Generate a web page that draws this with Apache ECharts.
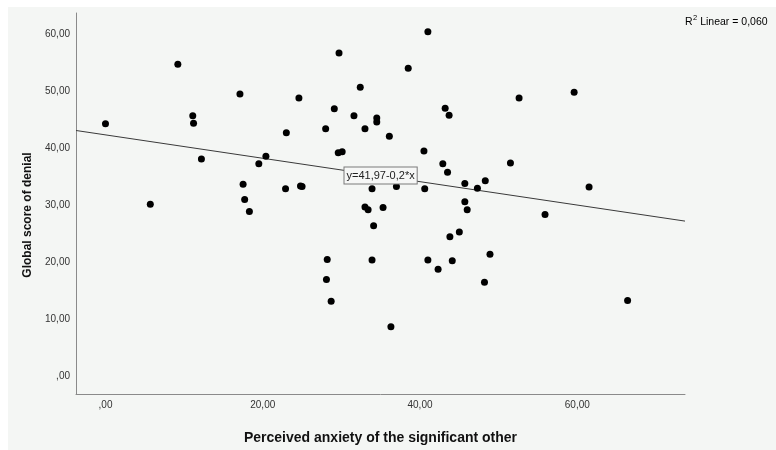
<!DOCTYPE html>
<html>
<head>
<meta charset="utf-8">
<script src="https://cdn.jsdelivr.net/npm/echarts@6/dist/echarts.min.js"></script>
<style>html,body{margin:0;padding:0;background:#fff}#c{width:776px;height:450px}</style>
</head>
<body>
<div id="c"></div>
<script>
// Perceived anxiety of the significant other (x) and Global score of denial (y)
const anxiety = [0, 9.2, 17.1, 11.1, 11.2, 12.2, 19.5, 17.5, 17.7, 18.3, 5.7,
  20.4, 41.0, 29.7, 38.5, 32.4, 24.6, 43.2, 43.7, 29.1, 31.6, 34.5, 34.5, 28.0, 33.0, 23.0, 36.1,
  40.5, 29.6, 30.1, 42.9, 43.5, 51.5, 45.7, 48.3, 47.3, 22.9, 24.8, 25.0, 33.9, 37.0, 40.6,
  45.7, 46.0, 33.0, 33.4, 35.3,
  52.6, 59.6, 61.5, 55.9, 66.4,
  34.1, 45.0, 43.8, 48.9, 28.2, 33.9, 41.0, 44.1, 42.3, 28.1, 48.2, 28.7, 36.3];
const denial = [44.3, 54.7, 49.5, 45.7, 44.4, 38.1, 37.3, 33.7, 31.0, 28.9, 30.2,
  38.6, 60.4, 56.7, 54.0, 50.7, 48.8, 47.0, 45.8, 46.9, 45.7, 45.3, 44.6, 43.4, 43.4, 42.7, 42.1,
  39.5, 39.2, 39.4, 37.3, 35.8, 37.4, 33.8, 34.3, 33.0, 32.9, 33.4, 33.3, 32.9, 33.3, 32.9,
  30.6, 29.2, 29.7, 29.2, 29.6,
  48.8, 49.8, 33.2, 28.4, 13.3,
  26.4, 25.3, 24.5, 21.4, 20.5, 20.4, 20.4, 20.3, 18.8, 17.0, 16.5, 13.2, 8.7];
const xTicks = [0, 20, 40, 60];
const yTicks = [0, 10, 20, 30, 40, 50, 60];
const xRange = [-3.75, 73.7];
const yRange = [-3.07, 63.7];
const fitIntercept = 42.34;
const fitSlope = -0.205;
const equationText = 'y=41,97-0,2*x';
const r2Label = 'Linear = 0,060';
const xTitle = 'Perceived anxiety of the significant other';
const yTitle = 'Global score of denial';

const FONT = 'Liberation Sans, Arial, sans-serif';
const fmt = v => (v === 0 ? ',00' : v.toFixed(2).replace('.', ','));
const points = anxiety.map((x, i) => [x, denial[i]]);
const fitLine = xRange.map(x => [x, fitIntercept + fitSlope * x]);

const chart = echarts.init(document.getElementById('c'), null, {renderer: 'canvas'});
chart.setOption({
  animation: false,
  backgroundColor: '#ffffff',
  grid: {left: 76, right: 91, top: 13, bottom: 52.3, containLabel: false},
  xAxis: {
    type: 'value', min: xRange[0], max: xRange[1],
    axisLine: {show: true, onZero: false, lineStyle: {color: '#8a8a8a', width: 1}},
    axisTick: {show: false},
    splitLine: {show: false},
    axisLabel: {customValues: xTicks, formatter: fmt, color: '#333', fontSize: 10, fontFamily: FONT, margin: 6},
    name: xTitle, nameLocation: 'middle', nameGap: 37,
    nameTextStyle: {fontSize: 14, fontWeight: 'bold', color: '#111', fontFamily: FONT}
  },
  yAxis: {
    type: 'value', min: yRange[0], max: yRange[1],
    axisLine: {show: true, onZero: false, lineStyle: {color: '#8a8a8a', width: 1}},
    axisTick: {show: false},
    splitLine: {show: false},
    axisLabel: {customValues: yTicks, formatter: fmt, color: '#333', fontSize: 10, fontFamily: FONT, margin: 6}
  },
  graphic: [
    {type: 'rect', z: -10, silent: true, shape: {x: 8, y: 7, width: 768, height: 443}, style: {fill: '#f4f6f4'}},
    {type: 'text', z: 10, x: 28, y: 215, rotation: Math.PI / 2,
      style: {text: yTitle, font: 'bold 12px ' + FONT, fill: '#111', align: 'center', verticalAlign: 'middle'}},
    {type: 'text', z: 10, x: 685, y: 21,
      style: {text: '{a|R}{s|2}{a| ' + r2Label + '}', align: 'left', verticalAlign: 'middle',
        rich: {
          a: {fontSize: 10.5, fontFamily: FONT, color: '#222', lineHeight: 14, verticalAlign: 'bottom'},
          s: {fontSize: 7.5, fontFamily: FONT, color: '#222', lineHeight: 14, verticalAlign: 'top', padding: [0, 0, 0, 0.5]}
        }}},
    {type: 'text', z: 10, x: 344.5, y: 167.5,
      style: {text: equationText, font: '11px ' + FONT, fill: '#222', align: 'left', verticalAlign: 'top',
        backgroundColor: '#f6f7f6', borderColor: '#7a7a7a', borderWidth: 1, padding: [3, 2, 2, 2]}}
  ],
  series: [
    {type: 'line', data: fitLine, symbol: 'none', silent: true, z: 1,
      lineStyle: {color: '#3a3a3a', width: 1}},
    {type: 'scatter', data: points, symbol: 'circle', symbolSize: 7, z: 3,
      itemStyle: {color: '#000', opacity: 1}}
  ]
});
</script>
</body>
</html>
